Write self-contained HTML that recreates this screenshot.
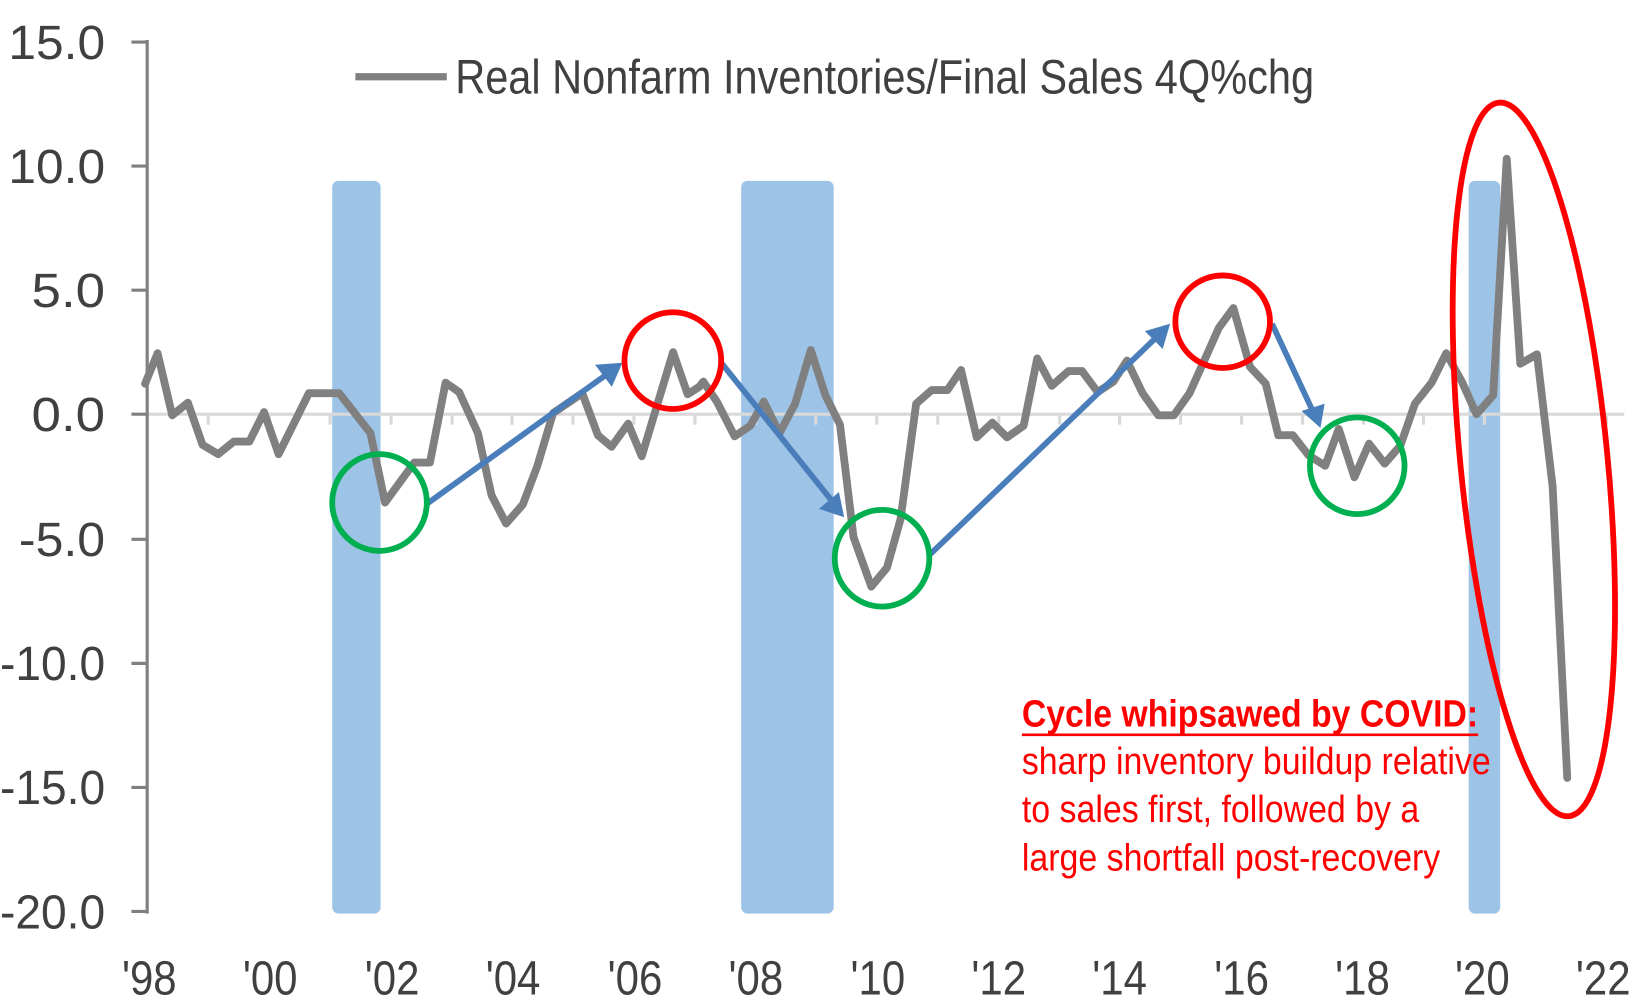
<!DOCTYPE html>
<html><head><meta charset="utf-8"><style>
html,body{margin:0;padding:0;background:#fff;}
svg{display:block;}
text{font-family:"Liberation Sans",sans-serif;}
</style></head><body>
<svg width="1640" height="1005" viewBox="0 0 1640 1005" xmlns="http://www.w3.org/2000/svg">
<g transform="scale(1.0513)">
<!-- recession bars -->
<rect x="316" y="172" width="46" height="697" rx="6" fill="#9dc3e6"/>
<rect x="705" y="172" width="88" height="697" rx="6" fill="#9dc3e6"/>
<rect x="1397" y="172" width="30" height="697" rx="6" fill="#9dc3e6"/>
<!-- zero line -->
<line x1="140" y1="394" x2="1545" y2="394" stroke="#d9d9d9" stroke-width="3"/>
<g stroke="#d9d9d9" stroke-width="3">
<line x1="198" y1="394" x2="198" y2="404"/><line x1="256" y1="394" x2="256" y2="404"/><line x1="314" y1="394" x2="314" y2="404"/><line x1="372" y1="394" x2="372" y2="404"/><line x1="430" y1="394" x2="430" y2="404"/><line x1="487" y1="394" x2="487" y2="404"/><line x1="545" y1="394" x2="545" y2="404"/><line x1="603" y1="394" x2="603" y2="404"/><line x1="661" y1="394" x2="661" y2="404"/><line x1="719" y1="394" x2="719" y2="404"/><line x1="776" y1="394" x2="776" y2="404"/><line x1="834" y1="394" x2="834" y2="404"/><line x1="892" y1="394" x2="892" y2="404"/><line x1="950" y1="394" x2="950" y2="404"/><line x1="1008" y1="394" x2="1008" y2="404"/><line x1="1065" y1="394" x2="1065" y2="404"/><line x1="1123" y1="394" x2="1123" y2="404"/><line x1="1181" y1="394" x2="1181" y2="404"/><line x1="1239" y1="394" x2="1239" y2="404"/><line x1="1297" y1="394" x2="1297" y2="404"/><line x1="1354" y1="394" x2="1354" y2="404"/><line x1="1412" y1="394" x2="1412" y2="404"/><line x1="1470" y1="394" x2="1470" y2="404"/><line x1="1528" y1="394" x2="1528" y2="404"/>
</g>
<!-- y axis -->
<g stroke="#808080" stroke-width="3">
<line x1="140" y1="38" x2="140" y2="869"/>
<line x1="125" y1="40" x2="140" y2="40"/><line x1="125" y1="158" x2="140" y2="158"/><line x1="125" y1="276" x2="140" y2="276"/><line x1="125" y1="394" x2="140" y2="394"/><line x1="125" y1="513" x2="140" y2="513"/><line x1="125" y1="631" x2="140" y2="631"/><line x1="125" y1="749" x2="140" y2="749"/><line x1="125" y1="867" x2="140" y2="867"/>
</g>
<g font-size="46" fill="#404040" text-anchor="end">
<text x="100" y="56" textLength="92" lengthAdjust="spacingAndGlyphs">15.0</text>
<text x="100" y="174" textLength="92" lengthAdjust="spacingAndGlyphs">10.0</text>
<text x="100" y="292" textLength="70" lengthAdjust="spacingAndGlyphs">5.0</text>
<text x="100" y="410" textLength="70" lengthAdjust="spacingAndGlyphs">0.0</text>
<text x="100" y="529" textLength="82" lengthAdjust="spacingAndGlyphs">-5.0</text>
<text x="100" y="647" textLength="100" lengthAdjust="spacingAndGlyphs">-10.0</text>
<text x="100" y="765" textLength="100" lengthAdjust="spacingAndGlyphs">-15.0</text>
<text x="100" y="883" textLength="100" lengthAdjust="spacingAndGlyphs">-20.0</text>
</g>
<g font-size="46" fill="#404040" text-anchor="middle">
<text x="142" y="946" textLength="52" lengthAdjust="spacingAndGlyphs">'98</text><text x="257" y="946" textLength="52" lengthAdjust="spacingAndGlyphs">'00</text><text x="373" y="946" textLength="52" lengthAdjust="spacingAndGlyphs">'02</text><text x="488" y="946" textLength="52" lengthAdjust="spacingAndGlyphs">'04</text><text x="604" y="946" textLength="52" lengthAdjust="spacingAndGlyphs">'06</text><text x="719" y="946" textLength="52" lengthAdjust="spacingAndGlyphs">'08</text><text x="835" y="946" textLength="52" lengthAdjust="spacingAndGlyphs">'10</text><text x="950" y="946" textLength="52" lengthAdjust="spacingAndGlyphs">'12</text><text x="1065" y="946" textLength="52" lengthAdjust="spacingAndGlyphs">'14</text><text x="1181" y="946" textLength="52" lengthAdjust="spacingAndGlyphs">'16</text><text x="1296" y="946" textLength="52" lengthAdjust="spacingAndGlyphs">'18</text><text x="1410" y="946" textLength="52" lengthAdjust="spacingAndGlyphs">'20</text><text x="1525" y="946" textLength="52" lengthAdjust="spacingAndGlyphs">'22</text>
</g>
<!-- legend -->
<line x1="338" y1="73" x2="425" y2="73" stroke="#808080" stroke-width="7"/>
<text x="433" y="89" font-size="46" fill="#404040" textLength="817" lengthAdjust="spacingAndGlyphs">Real Nonfarm Inventories/Final Sales 4Q%chg</text>
<!-- data line -->
<polyline transform="matrix(0.9925 0 0 1 -0.95 0)" fill="none" stroke="#808080" stroke-width="7.5" stroke-linejoin="round" stroke-linecap="round" points="140,365 152,336 166,395 181,383 195,423 210,432 225,420 240,420 254,392 268,432 297,374 326,374 356,412 370,478 398,440 413,440 428,364 441,373 459,412 472,471 486,498 502,480 516,443 531,393 559,374 574,414 587,425 603,403 616,434 646,335 660,375 671,368 675,363 688,382 705,415 720,405 733,382 748,412 763,384 778,333 792,376 806,404 819,511 836,558 851,540 864,494 879,384 894,371 909,371 922,352 937,416 952,402 966,416 982,405 995,341 1009,367 1025,353 1038,353 1053,373 1068,363 1081,343 1096,374 1111,395 1126,395 1141,374 1156,341 1169,312 1183,293 1199,349 1214,365 1226,414 1240,414 1255,433 1271,443 1284,408 1299,454 1313,422 1328,441 1343,424 1357,384 1373,364 1387,336 1402,363 1416,394 1432,376 1445,151 1458,346 1474,337 1489,463 1503,740"/>
<!-- arrows -->
<g stroke="#4a7ebb" stroke-width="5.5" fill="#4a7ebb">
<line x1="405" y1="480" x2="580" y2="354"/>
<polygon points="592,345 566,347 582,368" stroke="none"/>
<line x1="686" y1="345" x2="795" y2="481"/>
<polygon points="803,492 779,484 798,468" stroke="none"/>
<line x1="885" y1="527" x2="1104" y2="317"/>
<polygon points="1113,308 1089,315 1106,332" stroke="none"/>
<line x1="1210" y1="308" x2="1251" y2="396"/>
<polygon points="1256,407 1238,391 1260,384" stroke="none"/>
</g>
<!-- circles -->
<g fill="none" stroke-width="5.5">
<ellipse cx="361" cy="478" rx="45" ry="46" stroke="#00b050"/>
<ellipse cx="640" cy="343" rx="46" ry="46" stroke="#ff0000"/>
<ellipse cx="839" cy="531" rx="45" ry="46" stroke="#00b050"/>
<ellipse cx="1163" cy="306" rx="45" ry="44" stroke="#ff0000"/>
<ellipse cx="1291" cy="443" rx="45" ry="46" stroke="#00b050"/>
<ellipse cx="1459" cy="437" rx="70" ry="341" stroke="#ff0000" transform="rotate(-5.6 1459 437)"/>
</g>
<!-- annotation -->
<g fill="#ff0000" font-size="36">
<text x="972" y="691" font-weight="bold" textLength="434" lengthAdjust="spacingAndGlyphs">Cycle whipsawed by COVID:</text>
<line x1="972" y1="699" x2="1406" y2="699" stroke="#ff0000" stroke-width="2.5"/>
<text x="972" y="736" textLength="446" lengthAdjust="spacingAndGlyphs">sharp inventory buildup relative</text>
<text x="972" y="782" textLength="378" lengthAdjust="spacingAndGlyphs">to sales first, followed by a</text>
<text x="972" y="828" textLength="398" lengthAdjust="spacingAndGlyphs">large shortfall post-recovery</text>
</g>
</g>
</svg>
</body></html>
